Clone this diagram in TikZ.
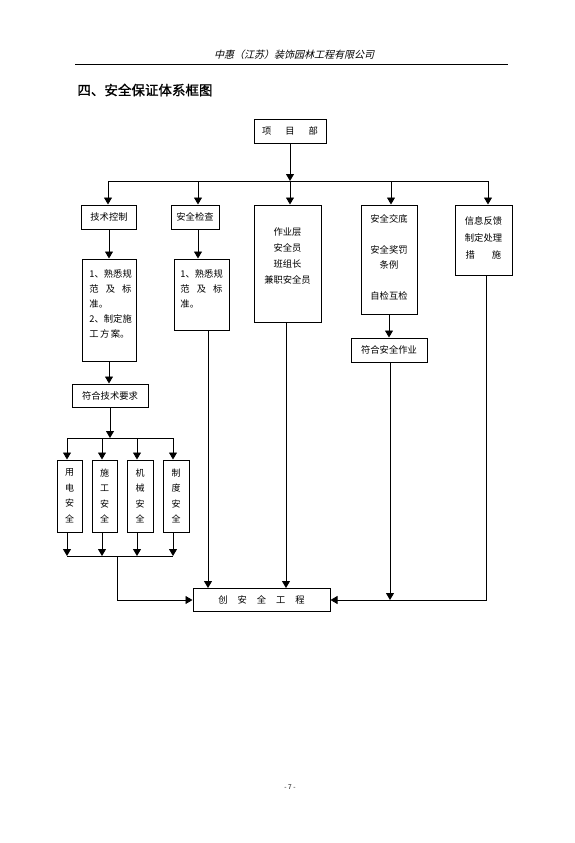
\documentclass[tikz,border=0pt]{standalone}
\usepackage{fontspec}
\setmainfont{Noto Sans CJK SC}
\newfontfamily\hdfont[FakeSlant=0.25]{Noto Sans CJK SC}
\newfontfamily\titlefont[FakeBold=1.2]{Noto Sans CJK SC}
\usetikzlibrary{arrows.meta}
\begin{document}
\begin{tikzpicture}[x=1pt,y=-1pt,line width=0.9pt,
  box/.style={draw,rectangle,inner sep=0pt,line width=1pt,align=center,
    font=\fontsize{9.3}{15}\selectfont},
  txt/.style={inner sep=0pt,font=\fontsize{9.3}{15}\selectfont},
  arr/.style={-{Triangle[length=7pt,width=8pt]}}]
\useasboundingbox (0,0) rectangle (575,843);
% header
\node[font=\hdfont\fontsize{10}{10}\selectfont,inner sep=0pt] (hd) at (294,55) {中惠（江苏）装饰园林工程有限公司};
\coordinate (rl) at (75,64);
\coordinate (rr) at (508,64);
\draw[line width=0.8pt] (rl) -- (rr);
\node[anchor=west,inner sep=0pt,font=\titlefont\fontsize{13.5}{14}\selectfont] (title) at (77,90) {四、安全保证体系框图};
% top box
\node[box,minimum width=72pt,minimum height=24pt] (xmb) at (290,131) {项\hspace{14pt}目\hspace{14pt}部};
\coordinate (b1) at (108,181);
\coordinate (b2) at (198,181);
\coordinate (b3) at (290,181);
\coordinate (b4) at (391,181);
\coordinate (b5) at (488,181);
\draw (b1) -- (b5);
\draw[arr] (xmb.south) -- (b3);
% second row
\node[box,minimum width=55pt,minimum height=24pt] (jskz) at (109,217) {技术控制};
\node[box,minimum width=48pt,minimum height=24pt] (aqjc) at (195,217) {安全检查};
\node[box,minimum width=67pt,minimum height=117pt] (zyc) at (287.5,263.5) {};
\node[txt,align=center,font=\fontsize{9.3}{16}\selectfont] (tzyc) at (287.5,256) {作业层\\安全员\\班组长\\兼职安全员};
\node[box,minimum width=56pt,minimum height=109pt] (aqjd) at (389,259.5) {};
\node[txt,align=center] (taqjd) at (389,257) {安全交底\\[16pt]安全奖罚\\条例\\[16pt]自检互检};
\node[box,minimum width=57pt,minimum height=70pt] (xxfk) at (483.5,240) {};
\node[txt,align=center,font=\fontsize{9.3}{17}\selectfont] (txxfk) at (483.5,238) {信息反馈\\制定处理\\措\hspace{17pt}施};
\draw[arr] (b1) -- (b1 |- jskz.north);
\draw[arr] (b2) -- (b2 |- aqjc.north);
\draw[arr] (b3) -- (b3 |- zyc.north);
\draw[arr] (b4) -- (b4 |- aqjd.north);
\draw[arr] (b5) -- (b5 |- xxfk.north);
% third row
\node[box,minimum width=54pt,minimum height=102pt] (nr1) at (109,310) {};
\node[txt,anchor=west,align=left] (tnr1) at (89,304) {1、熟悉规\\\makebox[42pt][s]{范 及 标}\\准。\\2、制定施\\\makebox[38pt][s]{工 方 案。}};
\node[box,minimum width=55pt,minimum height=71pt] (nr2) at (201.5,294.5) {};
\node[txt,anchor=west,align=left] (tnr2) at (180,289) {1、熟悉规\\\makebox[42pt][s]{范 及 标}\\准。};
\node[box,minimum width=76pt,minimum height=24pt] (fhaq) at (389,350) {符合安全作业};
\node[box,minimum width=76pt,minimum height=23pt] (fhjs) at (110,395.5) {符合技术要求};
\draw[arr] (jskz.south) -- (nr1.north);
\draw[arr] (aqjc.south -| b2) -- (nr2.north -| b2);
\draw[arr] (aqjd.south) -- (fhaq.north);
\draw[arr] (nr1.south) -- (fhjs.north -| nr1.south);
% fourth row
\coordinate (c1) at (67,438);
\coordinate (c2) at (102,438);
\coordinate (c3) at (137,438);
\coordinate (c4) at (173,438);
\draw (c1) -- (c4);
\draw[arr] (fhjs.south) -- (fhjs.south |- c1);
\node[box,minimum width=25pt,minimum height=72pt,font=\fontsize{9}{15.5}\selectfont] (s1) at (69.5,496) {用\\电\\安\\全};
\node[box,minimum width=25pt,minimum height=72pt,font=\fontsize{9}{15.5}\selectfont] (s2) at (104.5,496) {施\\工\\安\\全};
\node[box,minimum width=26pt,minimum height=72pt,font=\fontsize{9}{15.5}\selectfont] (s3) at (140,496) {机\\械\\安\\全};
\node[box,minimum width=26pt,minimum height=72pt,font=\fontsize{9}{15.5}\selectfont] (s4) at (176,496) {制\\度\\安\\全};
\draw[arr] (c1) -- (c1 |- s1.north);
\draw[arr] (c2) -- (c2 |- s2.north);
\draw[arr] (c3) -- (c3 |- s3.north);
\draw[arr] (c4) -- (c4 |- s4.north);
\coordinate (d1) at (67,556);
\coordinate (d2) at (102,556);
\coordinate (d3) at (137,556);
\coordinate (d4) at (173,556);
\coordinate (d0) at (117,556);
\draw (d1) -- (d4);
\draw[arr] (s1.south -| d1) -- (d1);
\draw[arr] (s2.south -| d2) -- (d2);
\draw[arr] (s3.south -| d3) -- (d3);
\draw[arr] (s4.south -| d4) -- (d4);
% bottom box
\node[box,minimum width=137pt,minimum height=23pt] (cj) at (261.5,600) {创\hspace{10pt}安\hspace{10pt}全\hspace{10pt}工\hspace{10pt}程};
\coordinate (v2) at (208,0);
\coordinate (v3) at (286,0);
\coordinate (v4) at (390,0);
\coordinate (v5) at (486,0);
\draw[arr] (d0) |- (cj.west);
\draw[arr] (nr2.south -| v2) -- (cj.north -| v2);
\draw[arr] (zyc.south -| v3) -- (cj.north -| v3);
\draw[arr] (fhaq.south -| v4) -- (v4 |- cj.east);
\draw[arr] (xxfk.south -| v5) |- (cj.east);
% page number
\node[inner sep=0pt,font=\fontsize{6.5}{7}\selectfont] (pg) at (290,787) {- 7 -};
\end{tikzpicture}
\end{document}
